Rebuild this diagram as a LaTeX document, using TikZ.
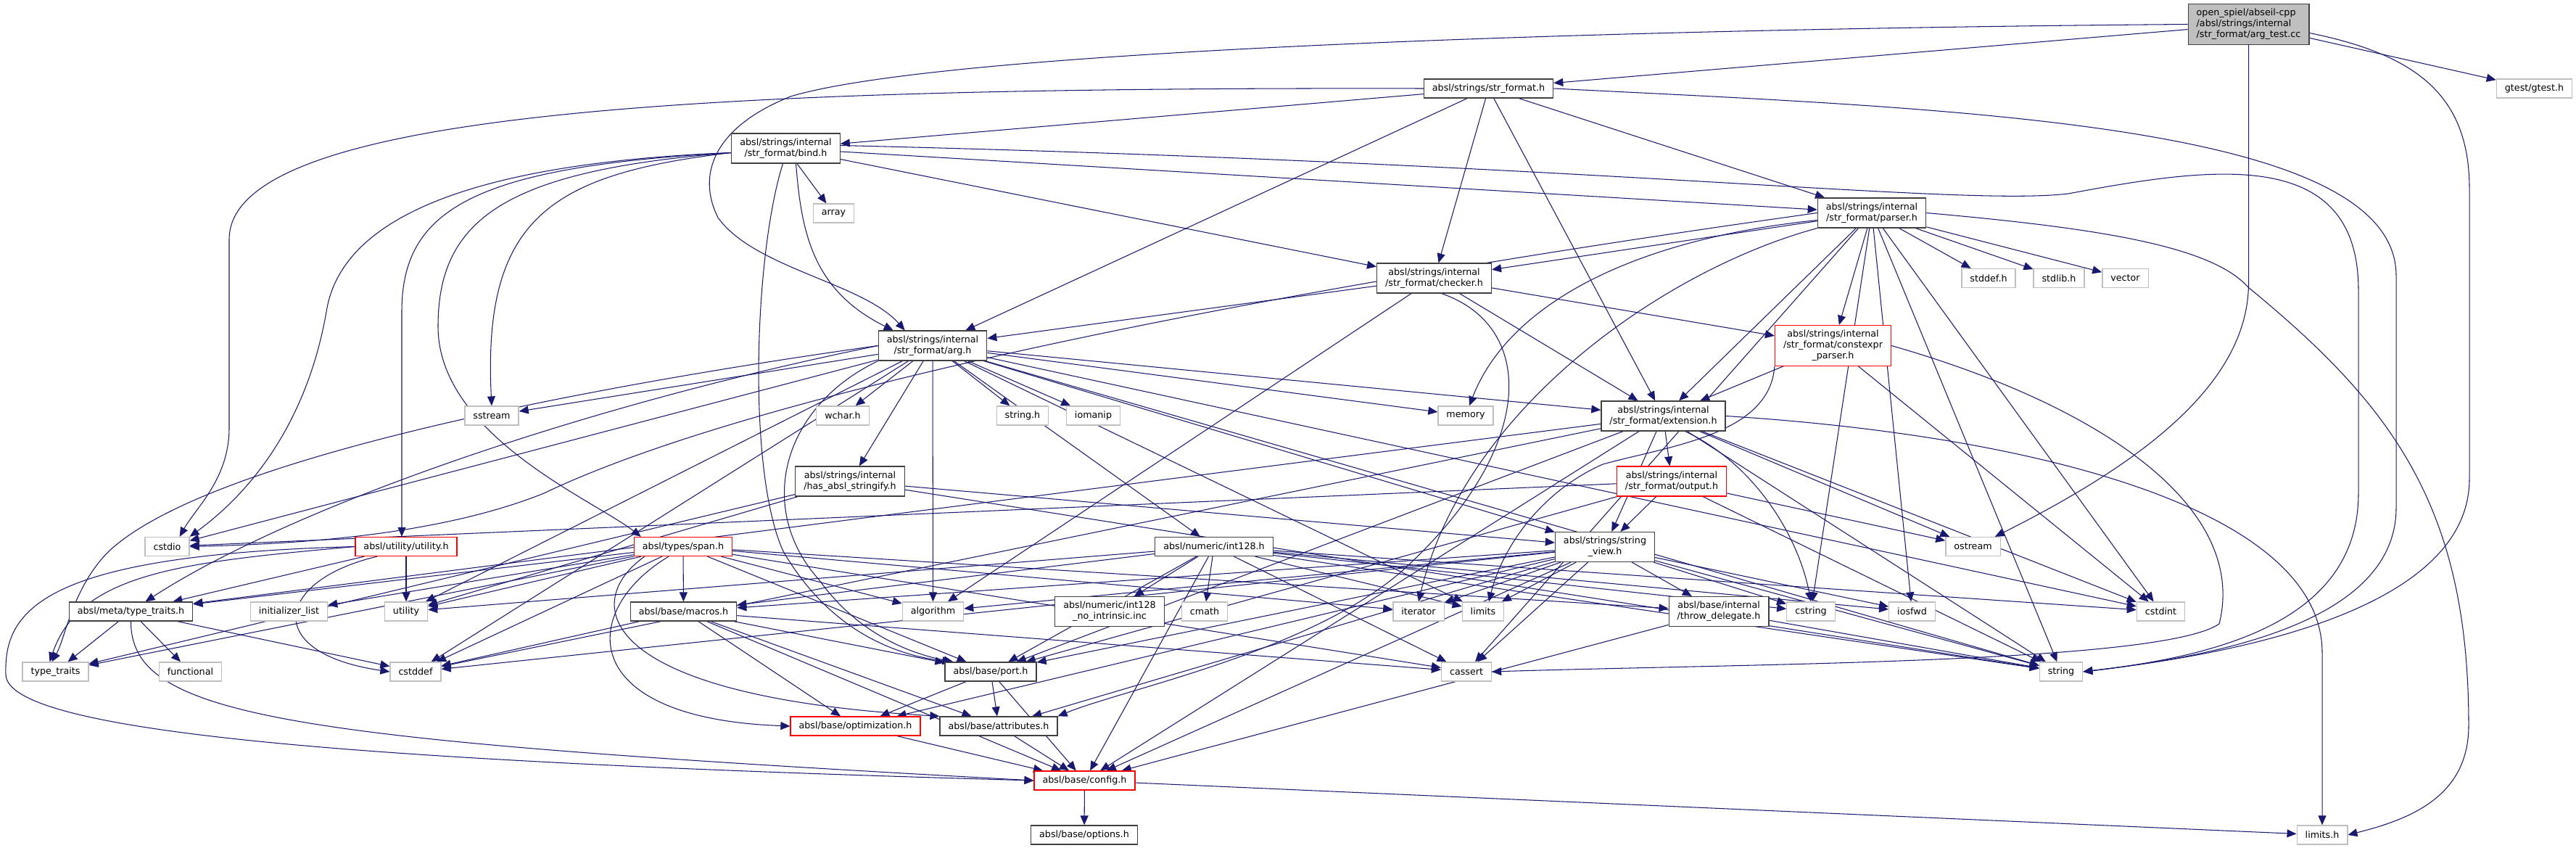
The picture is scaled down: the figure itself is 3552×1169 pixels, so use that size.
\documentclass[tikz,border=0pt]{standalone}
\usepackage{fontspec}
\setmainfont{DejaVu Sans}
\usetikzlibrary{arrows.meta}
\definecolor{edgec}{HTML}{191970}
\definecolor{grayb}{HTML}{BFBFBF}
\definecolor{blackb}{HTML}{404040}
\definecolor{redb}{HTML}{FF0000}
\definecolor{rootfill}{HTML}{BFBFBF}
\pgfdeclarelayer{edges}
\pgfsetlayers{edges,main}
\tikzset{
 box/.style={draw=blackb, line width=1.3pt, fill=white, inner xsep=11.5pt, inner ysep=6.6pt, minimum height=26pt, align=center, font=\fontsize{12.7}{15}\selectfont},
 sys/.style={box, draw=grayb},
 trunc/.style={box, draw=redb},
 root/.style={box, fill=rootfill, align=left},
 dep/.style={draw=edgec, line width=1.05pt, -{Triangle[length=13pt,width=11pt]}},
}
\begin{document}
\begin{tikzpicture}[x=1pt,y=-1pt]
\useasboundingbox (0,0) rectangle (3552,1169);
% nodes
\node[root] (argtest) at (3100.5,33.5) {open\_spiel/abseil-cpp\\/absl/strings/internal\\/str\_format/arg\_test.cc};
\node[sys] (gtest) at (3494.5,122) {gtest/gtest.h};
\node[box] (strformat) at (2052.5,122) {absl/strings/str\_format.h};
\node[box] (bind) at (1083.5,204.5) {absl/strings/internal\\/str\_format/bind.h};
\node[sys] (array) at (1149.5,294) {array};
\node[box] (parser) at (2581,293.5) {absl/strings/internal\\/str\_format/parser.h};
\node[box] (checker) at (1977.5,383.5) {absl/strings/internal\\/str\_format/checker.h};
\node[sys] (stddef) at (2742,383.5) {stddef.h};
\node[sys] (stdlib) at (2839,383.5) {stdlib.h};
\node[sys] (vector) at (2930.5,383.5) {vector};
\node[box] (arg) at (1286,476.5) {absl/strings/internal\\/str\_format/arg.h};
\node[trunc] (constexpr) at (2527.5,476.5) {absl/strings/internal\\/str\_format/constexpr\\\_parser.h};
\node[sys] (sstream) at (678,573) {sstream};
\node[sys] (wchar) at (1162,573) {wchar.h};
\node[sys] (stringh) at (1410,573) {string.h};
\node[sys] (iomanip) at (1507.5,573) {iomanip};
\node[sys] (memory) at (2021,573) {memory};
\node[box] (extension) at (2293.5,573.5) {absl/strings/internal\\/str\_format/extension.h};
\node[box] (hasabsl) at (1172,663.5) {absl/strings/internal\\/has\_absl\_stringify.h};
\node[trunc] (output) at (2305,663.5) {absl/strings/internal\\/str\_format/output.h};
\node[sys] (cstdio) at (230.5,753.5) {cstdio};
\node[trunc] (utilityh) at (560,753.5) {absl/utility/utility.h};
\node[trunc] (span) at (942,753.5) {absl/types/span.h};
\node[box] (int128) at (1674,753.5) {absl/numeric/int128.h};
\node[box] (stringview) at (2213,754) {absl/strings/string\\\_view.h};
\node[sys] (ostream) at (2720.5,753.5) {ostream};
\node[box] (typetraitsh) at (180.5,843) {absl/meta/type\_traits.h};
\node[sys] (initlist) at (398.5,843) {initializer\_list};
\node[sys] (utility) at (560,843) {utility};
\node[box] (macros) at (942.5,843) {absl/base/macros.h};
\node[sys] (algorithm) at (1286.5,843) {algorithm};
\node[box] (noint) at (1530,843) {absl/numeric/int128\\\_no\_intrinsic.inc};
\node[sys] (cmath) at (1661,843) {cmath};
\node[sys] (iterator) at (1956,843) {iterator};
\node[sys] (limits) at (2045,843) {limits};
\node[box] (throwdel) at (2370,843) {absl/base/internal\\/throw\_delegate.h};
\node[sys] (cstring) at (2497,843) {cstring};
\node[sys] (iosfwd) at (2636.5,843) {iosfwd};
\node[sys] (cstdint) at (2979.5,843) {cstdint};
\node[sys] (stdtt) at (76.5,926) {type\_traits};
\node[sys] (functional) at (262.5,926) {functional};
\node[sys] (cstddef) at (573,926) {cstddef};
\node[box] (port) at (1366,926) {absl/base/port.h};
\node[sys] (cassert) at (2022,926) {cassert};
\node[sys] (string) at (2842,926) {string};
\node[trunc] (optim) at (1179.5,1001) {absl/base/optimization.h};
\node[box] (attributes) at (1377,1001) {absl/base/attributes.h};
\node[trunc] (config) at (1495.5,1076) {absl/base/config.h};
\node[box] (options) at (1495,1151) {absl/base/options.h};
\node[sys] (limitsh) at (3202,1151) {limits.h};
\begin{pgfonlayer}{edges}
\fill[white] (0,0) rectangle (3552,1169);
% arg_test.cc
\draw[dep] (argtest) -- (gtest);
\draw[dep] (argtest) -- (strformat);
\draw[dep] (argtest.west) .. controls (2200,40) and (1300,70) .. (1090,133) .. controls (985,175) and (960,240) .. (990,300) .. controls (1040,370) and (1190,390) .. ([xshift=37pt]arg.north west);
\draw[dep] (argtest.south) -- (3100.5,390) .. controls (3100.5,530) and (2950,640) .. ([xshift=-8pt]ostream.north east);
\draw[dep] ([yshift=-12pt]argtest.east) .. controls (3330,75) and (3405,130) .. (3405,260) -- (3405,660) .. controls (3405,850) and (3050,905) .. (string.east);
% str_format.h
\draw[dep] (strformat.west) .. controls (1000,120) and (316,150) .. (316,330) -- (316,590) .. controls (316,660) and (270,700) .. ([xshift=-14pt]cstdio.north east);
\draw[dep] (strformat) -- (bind);
\draw[dep] (strformat) -- (arg);
\draw[dep] (strformat) -- (checker);
\draw[dep] (strformat) -- (extension);
\draw[dep] (strformat) -- (parser);
\draw[dep] (strformat.east) .. controls (2700,150) and (3304,170) .. (3304,380) -- (3304,700) .. controls (3304,860) and (3050,905) .. (string.east);
% bind.h
\draw[dep] (bind) -- (array);
\draw[dep] ([yshift=-6pt]bind.west) .. controls (650,225) and (470,300) .. (450,430) .. controls (420,600) and (330,690) .. (cstdio.north east);
\draw[dep] ([yshift=-6pt]bind.west) .. controls (760,240) and (665,300) .. (sstream.north);
\draw[dep] ([yshift=-6pt]bind.west) .. controls (700,235) and (604,300) .. (604,450) .. controls (604,600) and (820,690) .. ([xshift=10pt]span.north west);
\draw[dep] ([yshift=-6pt]bind.west) .. controls (650,230) and (554,290) .. (554,430) -- ([xshift=-6pt]utilityh.north);
\draw[dep] ([yshift=4pt]bind.east) .. controls (2200,225) and (2700,285) .. (2852,267) .. controls (3050,230) and (3252,200) .. (3252,400) -- (3252,680) .. controls (3252,860) and (3050,905) .. (string.east);
\draw[dep] ([xshift=-4pt]bind.south) .. controls (1040,350) and (1030,650) .. (1080,760) .. controls (1150,880) and (1250,905) .. ([xshift=10pt]port.north west);
\draw[dep] ([xshift=14pt]bind.south) .. controls (1105,320) and (1120,400) .. ([xshift=21pt]arg.north west);
\draw[dep] (bind) -- (checker);
\draw[dep] (bind) -- (parser);
% parser.h
\draw[dep] (parser.east) .. controls (2900,315) and (3050,340) .. (3100,396) .. controls (3300,560) and (3404,700) .. (3404,1000) .. controls (3404,1100) and (3320,1130) .. (limitsh.east);
\draw[dep] (parser) -- (stddef);
\draw[dep] (parser) -- (stdlib);
\draw[dep] (parser) -- (vector);
\draw[dep] (parser) -- (cassert);
\draw[dep] (parser) -- (cstdint);
\draw[dep] (parser.west) .. controls (1600,420) and (1000,560) .. (750,680) .. controls (600,740) and (400,750) .. (cstdio.east);
\draw[dep] (parser) -- (cstring);
\draw[dep] (parser) -- (iosfwd);
\draw[dep] (parser.south west) .. controls (2300,370) and (2020,560) .. (iterator.north);
\draw[dep] ([yshift=-10pt]parser.west) .. controls (2250,330) and (2080,420) .. ([xshift=5pt]memory.north);
\draw[dep] (parser) -- (string);
\draw[dep] (parser) -- (checker);
\draw[dep] (parser) -- (constexpr);
\draw[dep] (parser) -- (extension);
% checker.h
\draw[dep] (checker) -- (algorithm);
\draw[dep] ([xshift=10pt]checker.south) .. controls (2120,450) and (2120,620) .. (1930,790) .. controls (1800,900) and (1550,950) .. (attributes.north east);
\draw[dep] (checker) -- (arg);
\draw[dep] (checker) -- (constexpr);
\draw[dep] (checker) -- (extension);
% constexpr_parser.h
\draw[dep] (constexpr) -- (extension);
\draw[dep] (constexpr.south west) .. controls (2440,600) and (2300,615) .. (2210,640) .. controls (2120,680) and (2070,760) .. ([xshift=8pt]limits.north);
\draw[dep] (constexpr) -- (cstdint);
\draw[dep] (constexpr.east) .. controls (2900,560) and (3100,700) .. (3060,860) .. controls (2980,915) and (2400,915) .. (cassert.east);
% arg.h
\draw[dep] (arg) -- (stringh);
\draw[dep] (arg) -- (wchar);
\draw[dep] (arg) -- (algorithm);
\draw[dep] (arg) -- (cstddef);
\draw[dep] (arg) -- (cstdint);
\draw[dep] (arg) -- (cstdio);
\draw[dep] (arg) -- (iomanip);
\draw[dep] (arg) -- (limits);
\draw[dep] (arg) -- (memory);
\draw[dep] (arg) -- (sstream);
\draw[dep] (arg) -- (string);
\draw[dep] (arg.west) .. controls (900,520) and (300,620) .. (150,760) .. controls (100,810) and (90,880) .. ([xshift=-5pt]stdtt.north);
\draw[dep] (arg) -- (utility);
\draw[dep] (arg.south west) .. controls (1080,560) and (1040,700) .. (1130,800) .. controls (1180,870) and (1250,900) .. ([xshift=12pt]port.north west);
\draw[dep] (arg.west) .. controls (800,560) and (400,700) .. ([xshift=20pt]typetraitsh.north);
\draw[dep] (arg) -- (int128);
\draw[dep] (arg) -- (hasabsl);
\draw[dep] (arg) -- (extension);
\draw[dep] (arg) -- (stringview);
% extension.h
\draw[dep] (extension.east) .. controls (2800,600) and (3202,700) .. (3202,900) -- (limitsh.north);
\draw[dep] (extension) -- (cstddef);
\draw[dep] (extension) -- (cstdint);
\draw[dep] ([xshift=30pt]extension.south) .. controls (2420,640) and (2480,740) .. (cstring.north);
\draw[dep] (extension) -- (ostream);
\draw[dep] (extension) -- (string);
\draw[dep] (extension) -- (config);
\draw[dep] (extension) -- (port);
\draw[dep] (extension) -- (typetraitsh);
\draw[dep] (extension) -- (output);
\draw[dep] (extension) -- (stringview);
% output.h
\draw[dep] (output) -- (cstdio);
\draw[dep] (output) -- (ostream);
\draw[dep] (output) -- (string);
\draw[dep] (output) -- (port);
\draw[dep] (output) -- (stringview);
% has_absl_stringify.h
\draw[dep] (hasabsl) -- (utility);
\draw[dep] (hasabsl) -- (stdtt);
\draw[dep] (hasabsl) -- (stringview);
\draw[dep] (hasabsl) -- (string);
% utility.h
\draw[dep] (utilityh) -- (utility);
\draw[dep] ([xshift=-40pt]utilityh.south) .. controls (380,800) and (360,900) .. (cstddef.west);
\draw[dep] (utilityh) -- (typetraitsh);
\draw[dep] (utilityh.west) .. controls (250,775) and (110,790) .. ([xshift=-8pt]stdtt.north);
\draw[dep] (utilityh.west) .. controls (60,765) and (5,840) .. (8,930) .. controls (10,1010) and (500,1050) .. (config.west);
% span.h
\draw[dep] (span) -- (algorithm);
\draw[dep] (span) -- (cassert);
\draw[dep] (span) -- (cstddef);
\draw[dep] (span) -- (initlist);
\draw[dep] (span) -- (iterator);
\draw[dep] (span) -- (stdtt);
\draw[dep] (span) -- (utility);
\draw[dep] ([xshift=15pt]span.south west) .. controls (800,830) and (820,960) .. (attributes.north west);
\draw[dep] (span) -- (throwdel);
\draw[dep] (span) -- (macros);
\draw[dep] ([xshift=-20pt]span.south) .. controls (800,840) and (790,990) .. (optim.west);
\draw[dep] (span) -- (port);
\draw[dep] (span) -- (typetraitsh);
% int128.h
\draw[dep] (int128) -- (cassert);
\draw[dep] (int128) -- (cmath);
\draw[dep] (int128) -- (cstdint);
\draw[dep] (int128) -- (cstring);
\draw[dep] (int128) -- (iosfwd);
\draw[dep] (int128) -- (limits);
\draw[dep] (int128) -- (string);
\draw[dep] (int128) -- (utility);
\draw[dep] (int128) -- (config);
\draw[dep] (int128) -- (macros);
\draw[dep] (int128) -- (port);
\draw[dep] (int128) -- (noint);
% string_view.h
\draw[dep] (stringview) -- (algorithm);
\draw[dep] (stringview) -- (cassert);
\draw[dep] (stringview) -- (cstddef);
\draw[dep] (stringview) -- (cstring);
\draw[dep] (stringview) -- (iosfwd);
\draw[dep] (stringview) -- (iterator);
\draw[dep] (stringview) -- (limits);
\draw[dep] (stringview) -- (string);
\draw[dep] (stringview) -- (attributes);
\draw[dep] (stringview) -- (config);
\draw[dep] (stringview) -- (throwdel);
\draw[dep] (stringview) -- (macros);
\draw[dep] (stringview) -- (optim);
\draw[dep] (stringview) -- (port);
% throw_delegate.h
\draw[dep] (throwdel) -- (string);
\draw[dep] (throwdel) -- (config);
% macros.h
\draw[dep] (macros) -- (cassert);
\draw[dep] (macros) -- (cstddef);
\draw[dep] (macros) -- (attributes);
\draw[dep] (macros) -- (config);
\draw[dep] (macros) -- (optim);
\draw[dep] (macros) -- (port);
% port.h and below
\draw[dep] (port) -- (attributes);
\draw[dep] (port) -- (config);
\draw[dep] (port) -- (optim);
\draw[dep] (optim) -- (config);
\draw[dep] (attributes) -- (config);
\draw[dep] (config) -- (options);
\draw[dep] (config) -- (limitsh);
% meta/type_traits.h
\draw[dep] (typetraitsh) -- (stdtt);
\draw[dep] (typetraitsh) -- (functional);
\draw[dep] (typetraitsh) -- (cstddef);
\draw[dep] (typetraitsh.south) .. controls (180,990) and (400,1020) .. (config.west);
\end{pgfonlayer}
\end{tikzpicture}
\end{document}
